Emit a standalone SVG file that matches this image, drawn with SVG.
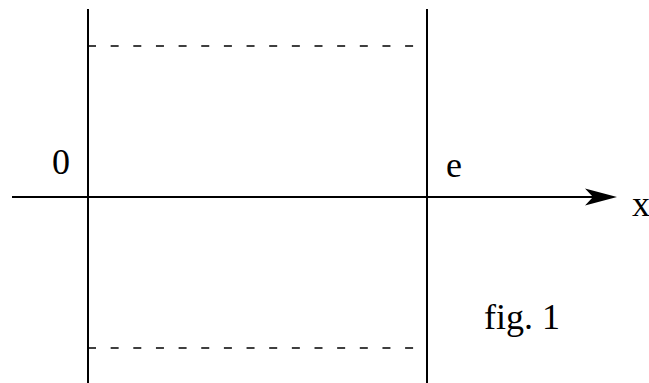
<svg xmlns="http://www.w3.org/2000/svg" width="649" height="383" viewBox="0 0 649 383">
<style>
.ln{stroke:#000;stroke-width:2;fill:none}
.dash{stroke:#000;stroke-width:1.6;fill:none;stroke-dasharray:8 14.65}
.t{font-family:"Liberation Serif","Times New Roman",serif;font-size:36px;fill:#000}
</style>
<rect width="649" height="383" fill="#fff"/>
<g id="connectors">
<line class="ln" x1="88" y1="9" x2="88" y2="383"/>
<line class="ln" x1="427" y1="9" x2="427" y2="383"/>
<line class="ln" x1="12" y1="197" x2="594" y2="197"/>
<path d="M617,197 L585,188.5 L593,197 L585,205.5 Z" fill="#000"/>
<line class="dash" x1="88" y1="46" x2="427" y2="46"/>
<line class="dash" x1="88" y1="348" x2="427" y2="348"/>
</g>
<g id="label-0"><text class="t" x="52" y="174">0</text></g>
<g id="label-e"><text class="t" x="446" y="177">e</text></g>
<g id="label-x"><text class="t" x="632" y="216">x</text></g>
<g id="label-fig"><text class="t" x="484" y="329">fig. 1</text></g>
</svg>
